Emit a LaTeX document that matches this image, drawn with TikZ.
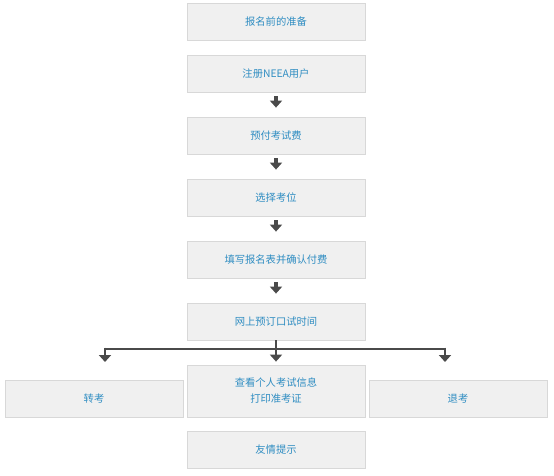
\documentclass[tikz,border=0pt]{standalone}
\usepackage{fontspec}
\newfontfamily\cjk{Noto Sans CJK SC}
\usetikzlibrary{arrows.meta,positioning}
\definecolor{boxfill}{HTML}{F0F0F0}
\definecolor{boxline}{HTML}{D8D8D8}
\definecolor{txtblue}{HTML}{2F8DC2}
\definecolor{arrowgray}{HTML}{4A4A4A}
\begin{document}
\begin{tikzpicture}[x=1pt, y=1pt, node distance=62pt]
\tikzstyle{block} = [rectangle, draw=boxline, fill=boxfill, minimum width=178pt, minimum height=37pt, text centered, text=txtblue, font=\cjk\fontsize{10.3}{16}\selectfont, line width=0.8pt]
\tikzstyle{arrow} = [-{Triangle[width=12pt,length=7pt]}, line width=3.4pt, draw=arrowgray, shorten <=4pt, shorten >=9pt]
\tikzstyle{branch} = [line width=2.6pt, draw=arrowgray]
\useasboundingbox (0,0) rectangle (554,-475);

\node (prep) [block] at (276,-21.5) {报名前的准备};
\node (reg) [block, below of=prep, node distance=52pt] {注册NEEA用户};
\node (pay) [block, below of=reg] {预付考试费};
\node (seat) [block, below of=pay] {选择考位};
\node (form) [block, below of=seat] {填写报名表并确认付费};
\node (oral) [block, below of=form] {网上预订口试时间};
\node (info) [block, below of=oral, node distance=69.5pt, minimum height=52pt, align=center] {查看个人考试信息\\打印准考证};
\node (transfer) [block] at (94,-398.5) {转考};
\node (refund) [block] at (458,-398.5) {退考};
\node (tips) [block, below of=info, node distance=59pt] {友情提示};
\draw[arrow] (reg)--(pay); \draw[arrow] (pay)--(seat);
\draw[arrow] (seat)--(form); \draw[arrow] (form)--(oral);

% branch below oral booking
\coordinate (split) at (276,-349);
\coordinate (lsplit) at (105,-349);
\coordinate (rsplit) at (445,-349);
\draw[branch] (lsplit)--(rsplit);
\draw[arrow, line width=2.6pt, shorten <=0pt, shorten >=3pt] (oral.south)--(info.north);
\draw[arrow, line width=2.6pt, shorten <=-1.3pt, shorten >=0pt] (lsplit)--++(0,-13);
\draw[arrow, line width=2.6pt, shorten <=-1.3pt, shorten >=0pt] (rsplit)--++(0,-13);
\end{tikzpicture}
\end{document}
